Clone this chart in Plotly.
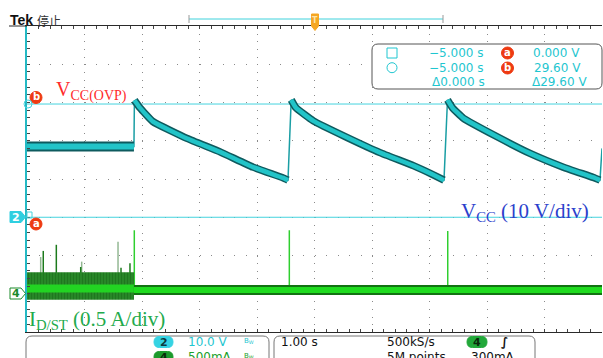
import plotly.graph_objects as go

# ---------------- data ----------------
t_range = [-5.0, 5.0]        # 1.00 s/div, 10 divisions
vcc_range = [-30.0, 50.0]    # CH2 10.0 V/div, ground 1 div below centre
id_range = [-0.5, 3.5]       # CH4 500 mA/div, ground 3 div below centre

# CH2: VCC (V)
vcc_flat_t = [-5.0, -3.14]
vcc_flat_v = [18.5, 18.5]
decay1_t = [-3.132, -3.035, -2.809, -2.217, -1.643, -1.070, -0.548, -0.461]
decay1_v = [30.6, 28.6, 25.0, 20.6, 17.1, 13.1, 10.3, 9.7]
decay2_t = [-0.405, -0.322, -0.021, 0.560, 1.139, 1.718, 2.066, 2.252]
decay2_v = [30.7, 28.6, 25.2, 20.9, 16.9, 13.5, 11.1, 9.7]
decay3_t = [2.313, 2.400, 2.588, 3.169, 3.748, 4.327, 4.849, 4.965]
decay3_v = [30.7, 28.6, 25.9, 21.1, 16.7, 13.1, 10.4, 9.7]
tail_t = [5.0]
tail_v = [18.0]

# cursors
cursor_a = 0.0
cursor_b = 29.6

# CH4: ID/ST (A)
id_noise_t = [-5.0, -3.14]
id_noise_hi = 0.28
id_noise_lo = -0.08
id_noise_core = 0.07
id_quiet_t = [-3.14, 5.0]
id_quiet = 0.05
spike_bright_t = [-3.134, -0.438, 2.317]
spike_bright_i = [0.83, 0.83, 0.82]
spike_dark_t = [-4.717, -4.490, -4.066, -3.365, -3.209]
spike_dark_i = [0.56, 0.64, 0.35, 0.34, 0.40]
spike_light_t = [-4.762, -4.049, -3.417]
spike_light_i = [0.48, 0.42, 0.68]

# ---------------- geometry helpers ----------------
W, H = 603, 358
ML, MR, MT, MB = 27, 1, 26, 26
PW = W - ML - MR
PH = H - MT - MB


def px(x):
    return (x - ML) / PW


def py(y):
    return (H - MB - y) / PH


def rrect(x0, y0, x1, y1, r):
    return (f"M{px(x0+r)},{py(y0)} L{px(x1-r)},{py(y0)} Q{px(x1)},{py(y0)} {px(x1)},{py(y0+r)} "
            f"L{px(x1)},{py(y1-r)} Q{px(x1)},{py(y1)} {px(x1-r)},{py(y1)} "
            f"L{px(x0+r)},{py(y1)} Q{px(x0)},{py(y1)} {px(x0)},{py(y1-r)} "
            f"L{px(x0)},{py(y0+r)} Q{px(x0)},{py(y0)} {px(x0+r)},{py(y0)} Z")


def poly(pts):
    return "M" + " L".join(f"{px(x)},{py(y)}" for x, y in pts) + " Z"


def spikes(ts, peaks, base):
    xs, ys = [], []
    for t, p in zip(ts, peaks):
        xs += [t, t, None]
        ys += [base, p, None]
    return xs, ys


fig = go.Figure()

# cursor lines
for cv in (cursor_b, cursor_a):
    fig.add_trace(go.Scatter(x=t_range, y=[cv, cv], mode="lines",
                             line=dict(color="#44d3de", width=1), hoverinfo="skip"))

# VCC thin trace (rises)
all_t = vcc_flat_t + decay1_t + decay2_t + decay3_t + tail_t
all_v = vcc_flat_v + decay1_v + decay2_v + decay3_v + tail_v
fig.add_trace(go.Scatter(x=all_t, y=all_v, mode="lines",
                         line=dict(color="#1a9ea4", width=1.5), hoverinfo="skip"))
# VCC flat band
fig.add_trace(go.Scatter(x=vcc_flat_t, y=vcc_flat_v, mode="lines",
                         line=dict(color="#0e5a5e", width=10), hoverinfo="skip"))
fig.add_trace(go.Scatter(x=vcc_flat_t, y=vcc_flat_v, mode="lines",
                         line=dict(color="#22c4c8", width=6), hoverinfo="skip"))
# VCC decay bands (lightly smoothed by the library's spline)
for dt, dv in ((decay1_t, decay1_v), (decay2_t, decay2_v), (decay3_t, decay3_v)):
    fig.add_trace(go.Scatter(x=dt, y=dv, mode="lines",
                             line=dict(color="#0e5a5e", width=7.5, shape="spline", smoothing=0.35),
                             hoverinfo="skip"))
    fig.add_trace(go.Scatter(x=dt, y=dv, mode="lines",
                             line=dict(color="#22c4c8", width=4.5, shape="spline", smoothing=0.35),
                             hoverinfo="skip"))

# ID spikes
for ts, ps, col, wd in ((spike_light_t, spike_light_i, "#93b893", 1.5),
                        (spike_dark_t, spike_dark_i, "#1c7a1c", 1.5),
                        (spike_bright_t, spike_bright_i, "#2fcf2f", 1.5)):
    sx, sy = spikes(ts, ps, id_quiet)
    fig.add_trace(go.Scatter(x=sx, y=sy, mode="lines", yaxis="y2",
                             line=dict(color=col, width=wd), hoverinfo="skip"))
# ID noisy band (textured fill)
fig.add_trace(go.Scatter(x=id_noise_t + id_noise_t[::-1],
                         y=[id_noise_hi] * 2 + [id_noise_lo] * 2,
                         mode="lines", fill="toself", fillcolor="#237f23",
                         fillpattern=dict(shape="|", fgcolor="#135f13", bgcolor="#2a8c2a",
                                          size=3, solidity=0.5),
                         line=dict(width=0, color="#1f7d1f"), yaxis="y2", hoverinfo="skip"))
fig.add_trace(go.Scatter(x=id_noise_t, y=[id_noise_core] * 2, mode="lines", yaxis="y2",
                         line=dict(color="#22d422", width=8), hoverinfo="skip"))
# ID quiet band
fig.add_trace(go.Scatter(x=id_quiet_t, y=[id_quiet] * 2, mode="lines", yaxis="y2",
                         line=dict(color="#137213", width=10), hoverinfo="skip"))
fig.add_trace(go.Scatter(x=id_quiet_t, y=[id_quiet] * 2, mode="lines", yaxis="y2",
                         line=dict(color="#1fdc1f", width=6), hoverinfo="skip"))

GRID = "#8a8a8a"
TICK = "#444"
cross = dict(showgrid=False, zeroline=False, showticklabels=False, showline=True,
             linecolor="#222", linewidth=1, ticklen=3, tickcolor="#222", tickwidth=1)

fig.update_layout(
    width=W, height=H, margin=dict(l=ML, r=MR, t=MT, b=MB, pad=0),
    paper_bgcolor="white", plot_bgcolor="white", showlegend=False,
    xaxis=dict(range=t_range, dtick=1, tick0=0, showgrid=True, gridcolor=GRID,
               griddash="1px,6.65px", gridwidth=1, zeroline=False, showline=True,
               linecolor="#2a2a2a", linewidth=1, mirror="ticks", ticks="inside",
               ticklen=3, tickcolor=TICK, showticklabels=False,
               minor=dict(dtick=0.2, ticks="inside", ticklen=3, tickcolor=TICK, showgrid=False),
               fixedrange=True),
    yaxis=dict(range=vcc_range, dtick=10, tick0=0, showgrid=True, gridcolor=GRID,
               griddash="1px,10.5px", gridwidth=1, zeroline=False, showline=True,
               linecolor="#24b9c4", linewidth=2, ticks="inside", ticklen=3,
               tickcolor=TICK, showticklabels=False,
               minor=dict(dtick=2, ticks="inside", ticklen=3, tickcolor=TICK, showgrid=False),
               fixedrange=True),
    yaxis2=dict(range=id_range, overlaying="y", anchor="x", showgrid=False, zeroline=False,
                showline=False, showticklabels=False, ticks="", fixedrange=True),
    xaxis2=dict(range=t_range, overlaying="x", anchor="free", position=0.5, dtick=0.2,
                tick0=0, ticks="outside", **cross),
    xaxis3=dict(range=t_range, overlaying="x", anchor="free", position=0.5, dtick=0.2,
                tick0=0, ticks="inside", **cross),
    yaxis3=dict(range=vcc_range, overlaying="y", anchor="free", position=0.5, dtick=2,
                tick0=0, ticks="outside", **cross),
    yaxis4=dict(range=vcc_range, overlaying="y", anchor="free", position=0.5, dtick=2,
                tick0=0, ticks="inside", **cross),
)

shapes = []
ann = []
SANS = "DejaVu Sans"
SERIF = "Liberation Serif"
CYAN_T = "#1fc6d0"


def text(x, y, s, color, size, family=SANS, xanchor="left", bold=False):
    if bold:
        s = f"<b>{s}</b>"
    ann.append(dict(x=px(x), y=py(y), xref="paper", yref="paper", text=s, showarrow=False,
                    xanchor=xanchor, yanchor="middle", borderpad=0,
                    font=dict(color=color, size=size, family=family)))


def circle(cx, cy, r, fill, line, lw=1):
    shapes.append(dict(type="circle", xref="paper", yref="paper", x0=px(cx - r), x1=px(cx + r),
                       y0=py(cy + r), y1=py(cy - r), fillcolor=fill, line=dict(color=line, width=lw)))


def badge(cx, cy, letter):
    circle(cx, cy, 6, "#ee3a12", "#ee3a12")
    text(cx, cy - 0.5, letter, "white", 10, xanchor="center", bold=True)


# top-left label and top border extension
text(9, 19.5, "Tek", "#111", 14, family="Liberation Sans", bold=True)
text(36, 20, "停止", "#333", 12, family="Noto Sans CJK SC")
shapes.append(dict(type="line", xref="paper", yref="paper", x0=px(9), x1=px(27), y0=py(26), y1=py(26),
                   line=dict(color="#2a2a2a", width=1)))
# record bar
shapes.append(dict(type="line", xref="paper", yref="paper", x0=px(189), x1=px(443), y0=py(19), y1=py(19),
                   line=dict(color="#3fd2dc", width=1)))
for bx in (189, 443):
    shapes.append(dict(type="line", xref="paper", yref="paper", x0=px(bx), x1=px(bx), y0=py(15), y1=py(23),
                       line=dict(color="#999", width=1)))
# trigger marker
shapes.append(dict(type="path", xref="paper", yref="paper",
                   path=poly([(311.5, 14), (318.5, 14), (318.5, 26), (315, 30.5), (311.5, 26)]),
                   fillcolor="#f5a623", line=dict(color="#f5a623", width=1)))
text(315, 20, "T", "#fde3a8", 8, xanchor="center", bold=True)

# cursor readout box
shapes.append(dict(type="path", xref="paper", yref="paper", path=rrect(372, 44, 602, 89, 6),
                   fillcolor="white", line=dict(color="#555", width=1)))
shapes.append(dict(type="rect", xref="paper", yref="paper", x0=px(387), x1=px(397), y0=py(58), y1=py(48),
                   line=dict(color=CYAN_T, width=1)))
circle(392, 67.7, 5, "rgba(0,0,0,0)", CYAN_T)
text(484, 53, "\u22125.000 s", CYAN_T, 12, xanchor="right")
text(484, 68, "\u22125.000 s", CYAN_T, 12, xanchor="right")
text(486, 82, "\u03940.000 s", CYAN_T, 12, xanchor="right")
badge(507.5, 53, "a")
badge(507.5, 68, "b")
text(581, 53, "0.000 V", CYAN_T, 12, xanchor="right")
text(582, 68, "29.60 V", CYAN_T, 12, xanchor="right")
text(588, 82, "\u039429.60 V", CYAN_T, 12, xanchor="right")

# left-side markers
badge(36, 97.5, "b")
badge(36, 224, "a")
circle(28, 104, 4, "rgba(0,0,0,0)", "#44d3de")
shapes.append(dict(type="rect", xref="paper", yref="paper", x0=px(27), x1=px(32), y0=py(218), y1=py(212),
                   line=dict(color="#44d3de", width=1)))
shapes.append(dict(type="path", xref="paper", yref="paper",
                   path=poly([(10, 211.5), (21, 211.5), (25.5, 217), (21, 222.5), (10, 222.5)]),
                   fillcolor="#2fcfe0", line=dict(color="#2fcfe0", width=1)))
text(16, 217, "2", "white", 11, xanchor="center", bold=True)
shapes.append(dict(type="path", xref="paper", yref="paper",
                   path=poly([(10, 288), (21, 288), (25.5, 293.5), (21, 299), (10, 299)]),
                   fillcolor="white", line=dict(color="#1a8a2a", width=1)))
text(16, 293.5, "4", "#1a8a2a", 11, xanchor="center", bold=True)

# in-plot labels
text(55, 91, "V<sub>CC(OVP)</sub>", "#ff2a2a", 20, family=SERIF)
text(460, 212, "V<sub>CC</sub> (10 V/div)", "#2c3fcc", 21, family=SERIF)
text(28, 320, "I<sub>D/ST</sub> (0.5 A/div)", "#22aa4c", 21, family=SERIF)

# bottom info bar
for x0, x1 in ((26, 269), (274, 535)):
    shapes.append(dict(type="path", xref="paper", yref="paper", path=rrect(x0, 336, x1, 380, 6),
                       fillcolor="rgba(0,0,0,0)", line=dict(color="#777", width=1)))
shapes.append(dict(type="path", xref="paper", yref="paper", path=rrect(154, 336.5, 173, 347.5, 5.5),
                   fillcolor="#35d3e3", line=dict(color="#35d3e3", width=1)))
text(163.5, 342, "2", "#0d3a40", 11, xanchor="center", bold=True)
text(187, 342, "10.0 V", CYAN_T, 12)
text(243, 341, "B<sub>W</sub>", CYAN_T, 7)
shapes.append(dict(type="path", xref="paper", yref="paper", path=rrect(154, 351.5, 173, 362.5, 5.5),
                   fillcolor="#1c9a2c", line=dict(color="#1c9a2c", width=1)))
text(163.5, 357, "4", "#0a2a0a", 11, xanchor="center", bold=True)
text(187, 357, "500mA", "#1ba02b", 12)
text(243, 356, "B<sub>W</sub>", "#1ba02b", 7)
text(280, 342, "1.00 s", "#111", 12)
text(386, 342, "500kS/s", "#111", 12)
text(386, 357, "5M points", "#111", 12)
shapes.append(dict(type="path", xref="paper", yref="paper", path=rrect(467, 336.5, 487, 347.5, 5.5),
                   fillcolor="#22a83a", line=dict(color="#22a83a", width=1)))
text(477, 342, "4", "#0a2a0a", 11, xanchor="center", bold=True)
text(500, 342, "\u222b", "#111", 12, bold=True)
text(470, 357, "300mA", "#111", 12)

fig.update_layout(shapes=shapes, annotations=ann)
fig.write_html("out.html", config={"displayModeBar": False, "staticPlot": True},
               post_script="document.body.style.margin='0';document.body.style.overflow='hidden';")
